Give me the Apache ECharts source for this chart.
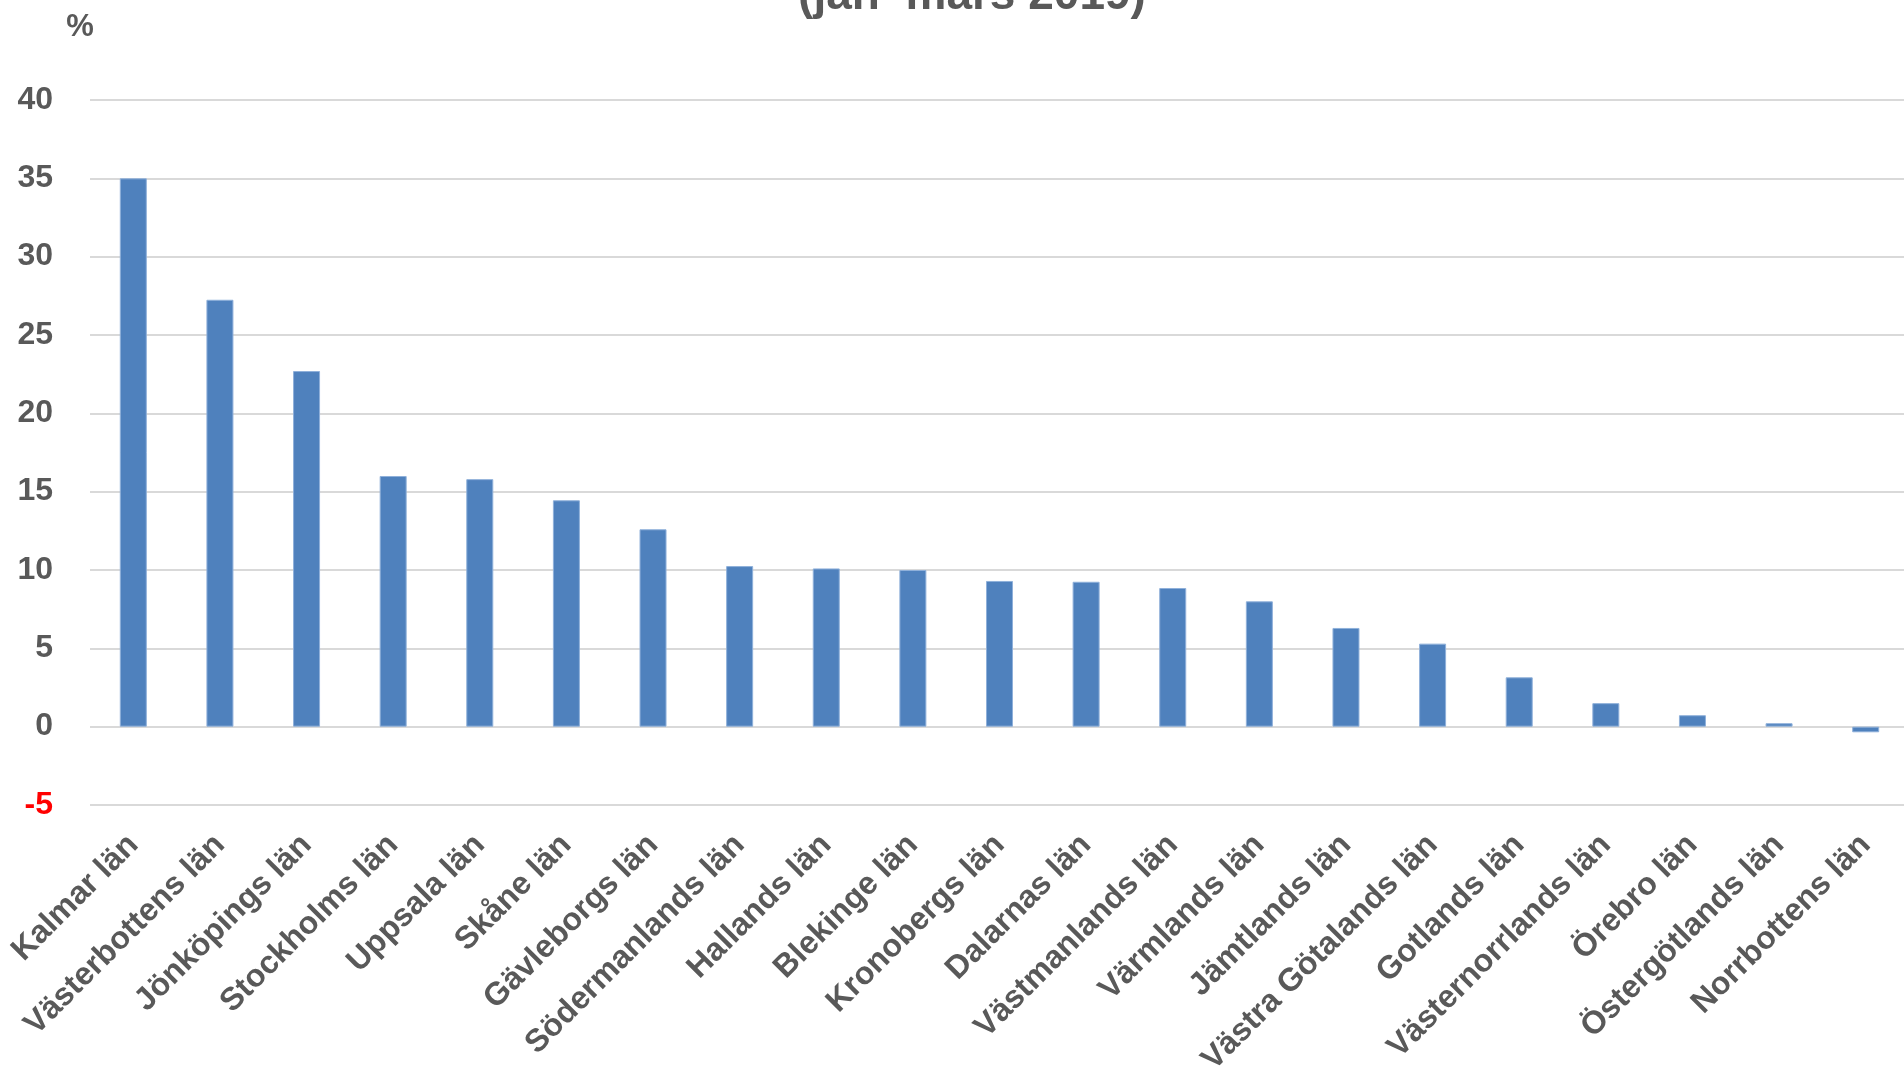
<!DOCTYPE html>
<html>
<head>
<meta charset="utf-8">
<script src="https://cdn.jsdelivr.net/npm/echarts@6/dist/echarts.min.js"></script>
<style>
html,body{margin:0;padding:0;background:#fff;}
#chart{width:1904px;height:1067px;}
</style>
</head>
<body>
<div id="chart"></div>
<script>
const categories = ['Kalmar län','Västerbottens län','Jönköpings län','Stockholms län','Uppsala län','Skåne län','Gävleborgs län','Södermanlands län','Hallands län','Blekinge län','Kronobergs län','Dalarnas län','Västmanlands län','Värmlands län','Jämtlands län','Västra Götalands län','Gotlands län','Västernorrlands län','Örebro län','Östergötlands län','Norrbottens län'];
const values = [35.0, 27.25, 22.7, 16.0, 15.8, 14.45, 12.6, 10.25, 10.1, 10.0, 9.3, 9.25, 8.85, 8.0, 6.3, 5.3, 3.15, 1.5, 0.73, 0.22, -0.36];
const titleText = '(jan–mars 2019)';
const unitText = '%';

const FONT = 'Liberation Sans, Arial, sans-serif';
const GRAY = '#595959';

const chart = echarts.init(document.getElementById('chart'));
chart.setOption({
  animation: false,
  backgroundColor: '#ffffff',
  graphic: [
    {type: 'text', x: 972, y: -4, style: {text: titleText, fill: GRAY, font: 'bold 46px ' + FONT, textAlign: 'center', textVerticalAlign: 'middle'}},
    {type: 'text', x: 80, y: 27, style: {text: unitText, fill: GRAY, font: 'bold 31px ' + FONT, textAlign: 'center', textVerticalAlign: 'middle'}}
  ],
  grid: {left: 90, top: 100, width: 1819, height: 705, containLabel: false, outerBoundsMode: 'none'},
  xAxis: {
    type: 'category',
    data: categories,
    axisLine: {show: false, onZero: false},
    axisTick: {show: false},
    axisLabel: {interval: 0, rotate: 45, margin: 35, color: GRAY, fontFamily: FONT, fontWeight: 'bold', fontSize: 32}
  },
  yAxis: {
    type: 'value',
    min: -5, max: 40, interval: 5,
    axisLine: {show: false},
    axisTick: {show: false},
    splitLine: {lineStyle: {color: '#d9d9d9', width: 2}},
    axisLabel: {
      margin: 37,
      fontFamily: FONT, fontWeight: 'bold', fontSize: 32, color: GRAY,
      formatter: v => v < 0 ? '{neg|' + v + '}' : String(v),
      rich: {neg: {color: '#ff0000', fontFamily: FONT, fontWeight: 'bold', fontSize: 32}}
    }
  },
  series: [{
    type: 'bar',
    data: values,
    barWidth: 27,
    itemStyle: {color: '#4f81bd', borderColor: '#8fb0da', borderWidth: 1}
  }]
});
</script>
</body>
</html>
